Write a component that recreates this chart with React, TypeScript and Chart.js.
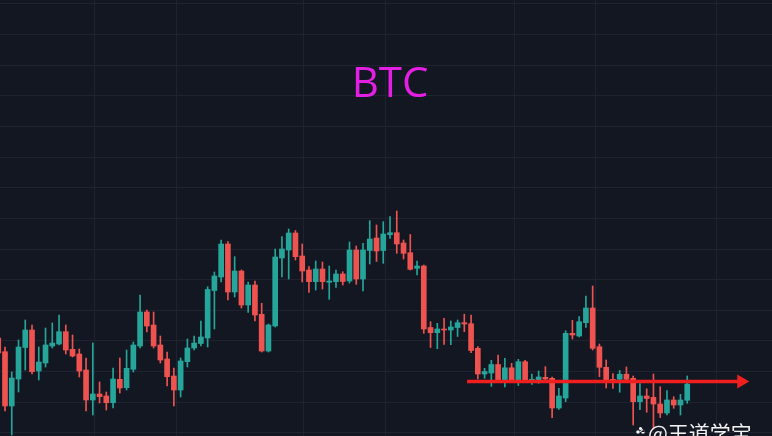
import React, { useEffect, useRef } from 'react';
import { Chart, registerables } from 'chart.js';

Chart.register(...registerables);

// OHLC of each candle, left to right
const opens = [
  20980, 20843, 20300, 20570, 20885, 21060, 20650, 20730, 20900, 20920,
  21043, 20867, 20820, 20660, 20360, 20420, 20400, 20333, 20567, 20483,
  20667, 20900, 21240, 21110, 20910, 20770, 20600, 20460, 20743, 20880,
  20925, 20980, 21455, 21590, 21920, 21440, 21650, 21310, 21510, 21217,
  20850, 21100, 21780, 21860, 22030, 21800, 21660, 21543, 21670, 21537,
  21543, 21620, 21550, 21860, 21570, 21855, 21980, 21855, 22013, 22033,
  21930, 21833, 21677, 21700, 21085, 21033, 21070, 21060, 21085, 21133,
  21123, 20877, 20620, 20630, 20715, 20543, 20682, 20550, 20743, 20552,
  20560, 20587, 20577, 20280, 20380, 21027, 21000, 21133, 21280, 20893,
  20687, 20567, 20567, 20618, 20577, 20343, 20400, 20387, 20320, 20230,
  20360, 20310, 20357,
];
const highs = [
  21030, 20890, 20640, 20960, 21160, 21110, 20890, 21080, 21130, 21210,
  21110, 21010, 20870, 20780, 20930, 20540, 20440, 20680, 20780, 20860,
  20940, 21410, 21260, 21240, 21000, 20840, 20680, 20780, 20970, 21000,
  21150, 21493, 21640, 21960, 21943, 21793, 21660, 21540, 21550, 21327,
  21120, 21870, 21995, 22070, 22055, 21920, 21695, 21750, 21740, 21700,
  21660, 21643, 21940, 21900, 21927, 22153, 22110, 22143, 22193, 22250,
  21960, 22015, 21750, 21710, 21143, 21127, 21177, 21150, 21160, 21218,
  21210, 20893, 20677, 20757, 20810, 20777, 20727, 20767, 20757, 20620,
  20650, 20693, 20590, 20477, 21052, 21157, 21195, 21400, 21500, 20920,
  20760, 20625, 20655, 20690, 20600, 20523, 20472, 20620, 20493, 20453,
  20393, 20417, 20600,
];
const lows = [
  20800, 20250, 20010, 20440, 20660, 20620, 20560, 20690, 20880, 20910,
  20820, 20790, 20590, 20250, 20210, 20330, 20260, 20280, 20430, 20460,
  20640, 20880, 21040, 20880, 20730, 20500, 20300, 20390, 20690, 20860,
  20900, 20890, 21070, 21540, 21360, 21390, 21280, 21235, 21150, 20840,
  20840, 21090, 21590, 21570, 21760, 21540, 21435, 21460, 21470, 21367,
  21485, 21510, 21530, 21517, 21450, 21720, 21745, 21727, 21977, 21827,
  21770, 21660, 21610, 21027, 20885, 20873, 20917, 20913, 20995, 21043,
  20833, 20570, 20577, 20497, 20540, 20490, 20540, 20505, 20540, 20515,
  20527, 20560, 20183, 20267, 20343, 20970, 20990, 21087, 20860, 20593,
  20480, 20477, 20438, 20550, 20110, 20263, 20238, 20070, 20185, 20210,
  20277, 20210, 20327,
];
const closes = [
  20830, 20300, 20580, 20890, 21060, 20643, 20740, 20910, 20930, 21043,
  20860, 20800, 20650, 20360, 20420, 20393, 20333, 20570, 20480, 20677,
  20910, 21240, 21100, 20900, 20760, 20593, 20460, 20750, 20880, 20930,
  20990, 21465, 21600, 21920, 21440, 21650, 21310, 21510, 21210, 20850,
  21110, 21790, 21870, 22030, 21793, 21650, 21543, 21670, 21543, 21550,
  21620, 21545, 21860, 21570, 21860, 21970, 21850, 22020, 22033, 21920,
  21827, 21667, 21700, 21070, 21033, 21070, 21060, 21090, 21133, 21120,
  20855, 20620, 20645, 20715, 20543, 20682, 20543, 20743, 20543, 20568,
  20590, 20570, 20280, 20400, 21027, 21010, 21143, 21280, 20877, 20687,
  20560, 20553, 20618, 20567, 20343, 20400, 20375, 20320, 20230, 20360,
  20310, 20360, 20520,
];
const candleIndex = opens.map((_, i) => i);

// support line (arrow) drawn across the last part of the chart
const arrowX = [69.4, 110];
const arrowLevel = 20545;

// grid positions
const xGridTicks = [14.2, 26.3, 45.1, 57.25, 76.35, 88.35, 106.25];
const yGridTicks = [
  20036, 20342.5, 20649, 20955.5, 21262, 21568.5, 21875, 22181.5,
  22488, 22794.5, 23101, 23407.5, 23714, 24020.5, 24327,
];

const titleText = 'BTC';
const watermarkText = '@王道学宝';

const UP = '#26a69a';
const DOWN = '#ef5350';
const BG = '#131722';
const GRID = '#1f2331';

export default function App() {
  const ref = useRef<HTMLCanvasElement | null>(null);
  useEffect(() => {
    if (!ref.current) return;
    const colors = candleIndex.map((i) => (closes[i] >= opens[i] ? UP : DOWN));
    const bgPlugin = {
      id: 'bgGrid',
      beforeDraw(chart: any) {
        const { ctx, width, height } = chart;
        ctx.save();
        ctx.fillStyle = BG;
        ctx.fillRect(0, 0, width, height);
        ctx.strokeStyle = GRID;
        ctx.lineWidth = 1;
        const xs = chart.scales.x;
        const ys = chart.scales.y;
        ctx.beginPath();
        for (const v of yGridTicks) {
          const y = Math.round(ys.getPixelForValue(v)) + 0.5;
          ctx.moveTo(0, y);
          ctx.lineTo(width, y);
        }
        for (const v of xGridTicks) {
          const x = Math.round(xs.getPixelForValue(v)) + 0.5;
          ctx.moveTo(x, 0);
          ctx.lineTo(x, height);
        }
        ctx.stroke();
        ctx.restore();
      },
    };
    const textPlugin = {
      id: 'texts',
      afterDraw(chart: any) {
        const { ctx } = chart;
        ctx.save();
        ctx.fillStyle = '#e41fe4';
        ctx.font = '42px "Open Sans"';
        ctx.textAlign = 'center';
        ctx.textBaseline = 'alphabetic';
        ctx.fillText(titleText, 390, 97);
        ctx.fillStyle = '#f2f2f2';
        ctx.font = '21px "Noto Sans CJK SC"';
        ctx.textAlign = 'left';
        ctx.textBaseline = 'top';
        ctx.fillText(watermarkText, 648, 423);
        ctx.beginPath();
        ctx.arc(638, 432, 1.8, 0, Math.PI * 2);
        ctx.arc(643, 432, 1.8, 0, Math.PI * 2);
        ctx.arc(640.5, 428.5, 1.6, 0, Math.PI * 2);
        ctx.fill();
        ctx.restore();
      },
    };
    const chart = new Chart(ref.current, {
      type: 'bar',
      data: {
        datasets: [
          {
            type: 'line',
            data: arrowX.map((x) => ({ x, y: arrowLevel })),
            borderColor: '#f01f1f',
            borderWidth: 3.5,
            pointRadius: [0, 8],
            pointStyle: 'triangle',
            pointRotation: 90,
            pointBackgroundColor: '#f01f1f',
            pointBorderColor: '#f01f1f',
            pointBorderWidth: 0,
            clip: false,
            order: 0,
          } as any,
          {
            type: 'bar',
            data: candleIndex.map((i) => ({ x: i, y: [opens[i], closes[i]] })),
            backgroundColor: colors,
            borderWidth: 0,
            barThickness: 5,
            minBarLength: 1,
            grouped: false,
            order: 1,
          } as any,
          {
            type: 'bar',
            data: candleIndex.map((i) => ({ x: i, y: [lows[i], highs[i]] })),
            backgroundColor: colors,
            borderWidth: 0,
            barThickness: 1,
            grouped: false,
            order: 2,
          } as any,
        ],
      },
      options: {
        animation: false,
        responsive: true,
        maintainAspectRatio: false,
        events: [],
        layout: { padding: 0, autoPadding: false },
        plugins: {
          legend: { display: false },
          tooltip: { enabled: false },
          title: { display: false },
        },
        scales: {
          x: { type: 'linear', display: false, min: 0.26, max: 114.55, offset: false },
          y: { type: 'linear', display: false, min: 20000, max: 24360 },
        },
      } as any,
      plugins: [bgPlugin, textPlugin],
    });
    return () => chart.destroy();
  }, []);
  return (
    <div style={{ position: 'fixed', left: 0, top: 0, width: 772, height: 436, background: BG }}>
      <canvas ref={ref} />
    </div>
  );
}
